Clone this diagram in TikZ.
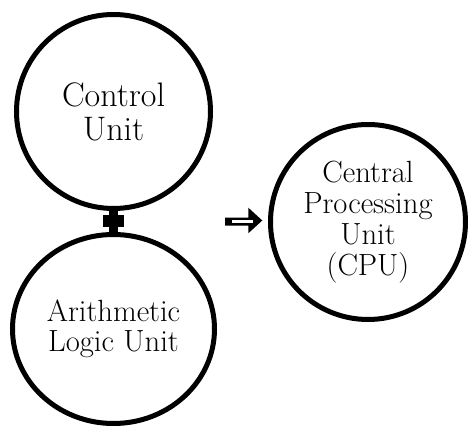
\documentclass[tikz,border=0pt]{standalone}
\usepackage{amsmath}
\usepackage{tikz}
\usetikzlibrary{positioning, shapes.geometric}

\begin{document}
\begin{tikzpicture}[>=stealth, semithick, x=0.75pt, y=-0.75pt,
                unit/.style={circle, draw, line width=3.75pt, inner sep=0pt, align=center},
                bigtext/.style={font=\fontsize{25.5}{25.5}\selectfont},
                smalltext/.style={font=\fontsize{23}{23.25}\selectfont}]
                \useasboundingbox (0, 0) rectangle (469, 427);
                \node[unit, bigtext, minimum size=145.5pt] (cu) at (113.5, 111.5) {Control\\Unit};
                \node[unit, smalltext, ellipse, minimum width=151.5pt, minimum height=141.75pt,
                    below=15.75pt of cu, font=\fontsize{23}{22.5}\selectfont] (alu) {Arithmetic\\Logic Unit};
                \node[unit, smalltext, minimum size=146.25pt] (cpu) at (368, 222) {Central\\Processing\\Unit\\(CPU)};
                \draw[line width=6.75pt] (cu) -- (alu)
                    node[midway, fill, inner sep=0pt, minimum width=15.75pt, minimum height=9pt] (join) {};
                \coordinate (imp) at (225, 221.7);
                \fill (imp) ++(0, -4) -- ++(23.3, 0) -- ++(0, -10) -- ++(14, 12.8)
                    -- ++(-14, 12.8) -- ++(0, -7.6) -- ++(-23.3, 0) -- cycle;
                \fill[white] (imp) ++(6.7, -1.7) rectangle ++(21.3, 3.3);
            \end{tikzpicture}
\end{document}
